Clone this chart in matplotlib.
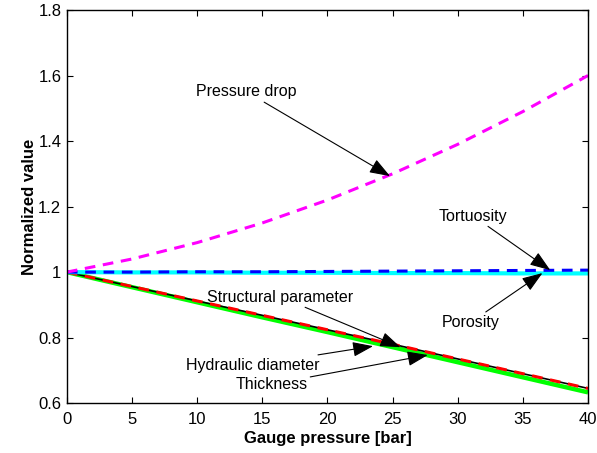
import matplotlib
matplotlib.use("Agg")
import matplotlib.pyplot as plt

plt.rcParams['font.family'] = ['Liberation Sans', 'DejaVu Sans']

# Gauge pressure [bar]
pressure = [0, 5, 10, 15, 20, 25, 30, 35, 40]

# Normalized values
pressure_drop = [1.000, 1.040, 1.090, 1.150, 1.220, 1.300, 1.390, 1.490, 1.600]
tortuosity = [1.000, 1.000, 1.001, 1.001, 1.002, 1.003, 1.004, 1.005, 1.006]
porosity = [1.000, 0.999, 0.999, 0.998, 0.998, 0.997, 0.997, 0.996, 0.996]
hydraulic_diameter = [1.000, 0.956, 0.912, 0.868, 0.824, 0.780, 0.735, 0.690, 0.645]
structural_parameter = [1.000, 0.956, 0.912, 0.868, 0.824, 0.780, 0.735, 0.690, 0.645]
thickness = [1.000, 0.954, 0.908, 0.862, 0.817, 0.771, 0.725, 0.679, 0.633]

fig = plt.figure(figsize=(5.97, 4.53), dpi=100)
ax = fig.add_axes([0.112, 0.110, 0.873, 0.868])

ax.plot(pressure, thickness, color='#00ff00', lw=3.2, solid_capstyle='butt')
ax.plot(pressure, hydraulic_diameter, color='black', lw=1.2)
ax.plot(pressure, structural_parameter, color='red', lw=2.2, dashes=(3.5, 2.5))
ax.plot(pressure, porosity, color='cyan', lw=3.0)
ax.plot(pressure, tortuosity, color='blue', lw=2.2, dashes=(3.5, 2.5))
ax.plot(pressure, pressure_drop, color='magenta', lw=2.2, dashes=(3.5, 2.5))

ax.set_xlim(0, 40)
ax.set_ylim(0.6, 1.8)
ax.set_xticks(range(0, 41, 5))
ax.set_yticks([0.6, 0.8, 1.0, 1.2, 1.4, 1.6, 1.8])
ax.set_yticklabels(['0.6', '0.8', '1', '1.2', '1.4', '1.6', '1.8'])
ax.tick_params(direction='in', top=True, right=True, labelsize=12, length=4, width=0.8)
ax.tick_params(axis='x', pad=6)
ax.tick_params(axis='y', pad=4)
for s in ax.spines.values():
    s.set_linewidth(1.0)

ax.set_xlabel('Gauge pressure [bar]', fontsize=12, fontweight='bold', labelpad=3)
ax.set_ylabel('Normalized value', fontsize=12, fontweight='bold', labelpad=1)

arrow = dict(arrowstyle='-|>,head_length=1.1,head_width=0.4', color='black', lw=0.8,
             shrinkA=0, shrinkB=0)
notes = [
    ('Pressure drop', (24.8, 1.293), (13.8, 1.550)),
    ('Tortuosity', (37.1, 1.006), (31.2, 1.171)),
    ('Porosity', (36.5, 0.997), (31.0, 0.847)),
    ('Structural parameter', (25.6, 0.771), (16.4, 0.924)),
    ('Hydraulic diameter', (23.5, 0.774), (14.3, 0.716)),
    ('Thickness', (27.7, 0.747), (15.7, 0.658)),
]
for label, tip, pos in notes:
    ax.annotate(label, xy=tip, xytext=pos, ha='center', va='center', fontsize=11.5,
                arrowprops=arrow)

fig.savefig('out.png', dpi=100)
